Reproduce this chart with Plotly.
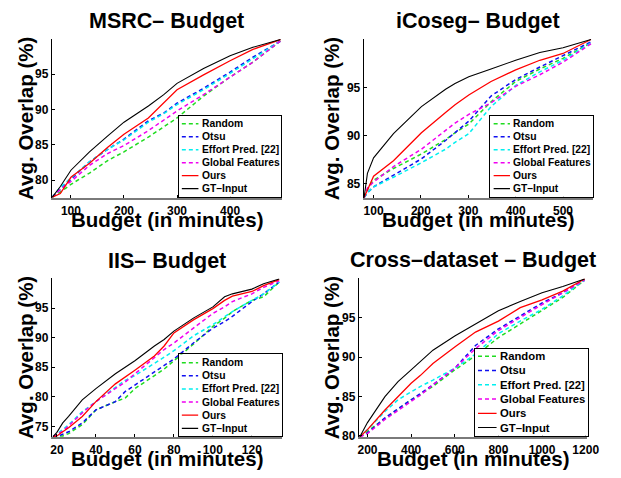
import plotly.graph_objects as go

# ---------------- data ----------------
series_names = ["Random", "Otsu", "Effort Pred. [22]", "Global Features", "Ours", "GT\u2013Input"]

# MSRC
msrc_x = [65, 80, 100, 135, 170, 200, 246, 275, 300, 350, 400, 443, 495]
msrc_random = [77.6, 78.3, 79.4, 81.0, 82.8, 84.0, 86.1, 87.5, 88.8, 91.9, 94.6, 96.7, 99.7]
msrc_otsu = [77.6, 78.7, 80.1, 82.6, 84.4, 85.8, 88.4, 89.5, 90.9, 93.0, 95.3, 97.4, 99.7]
msrc_effort = [77.6, 79.0, 80.3, 82.6, 84.4, 85.7, 88.2, 89.4, 90.7, 92.8, 95.1, 97.2, 99.7]
msrc_global = [77.6, 78.7, 79.8, 82.1, 83.8, 84.9, 87.0, 88.5, 89.8, 92.1, 94.6, 96.7, 99.7]
msrc_ours = [77.6, 78.1, 80.4, 82.4, 84.7, 86.5, 88.8, 90.9, 92.8, 94.9, 96.9, 98.5, 99.9]
msrc_gt = [77.6, 79.1, 81.4, 84.0, 86.3, 88.2, 90.5, 92.1, 93.7, 95.8, 97.6, 98.8, 99.9]

# iCoseg
icoseg_x = [80, 87, 100, 142, 201, 252, 272, 301, 348, 400, 451, 500, 559]
icoseg_random = [83.6, 84.4, 85.4, 86.6, 88.1, 89.6, 90.3, 91.2, 93.5, 95.6, 96.9, 98.0, 99.6]
icoseg_otsu = [83.6, 84.1, 84.7, 85.9, 87.6, 89.5, 90.3, 91.5, 94.1, 95.8, 97.1, 98.3, 99.7]
icoseg_effort = [83.6, 84.1, 84.7, 85.7, 87.2, 88.6, 89.3, 90.2, 93.0, 95.2, 96.6, 97.8, 99.6]
icoseg_global = [83.6, 84.6, 85.2, 86.8, 88.6, 90.5, 91.3, 92.2, 93.4, 95.1, 96.3, 97.6, 99.5]
icoseg_ours = [83.6, 84.4, 85.8, 87.4, 90.3, 92.4, 93.2, 94.2, 95.6, 96.8, 97.8, 98.5, 99.95]
icoseg_gt = [83.6, 86.1, 87.7, 90.2, 93.0, 94.8, 95.4, 96.1, 96.9, 97.8, 98.6, 99.1, 99.95]

# IIS
iis_x = [18, 20, 23, 26, 33, 40, 50, 55, 60, 70, 75, 80, 90, 100, 106, 110, 120, 126, 134]
iis_random = [73.3, 73.4, 73.4, 73.8, 75.3, 77.8, 79.2, 79.8, 81.4, 83.6, 84.7, 86.1, 88.9, 91.9, 93.3, 94.4, 96.3, 96.9, 99.4]
iis_otsu = [73.3, 73.3, 73.7, 74.1, 75.6, 77.8, 79.2, 80.9, 82.0, 84.2, 85.3, 86.4, 89.1, 91.6, 92.7, 93.6, 96.1, 97.4, 99.4]
iis_effort = [73.3, 73.7, 74.5, 75.3, 77.5, 79.2, 81.7, 82.8, 83.6, 85.6, 86.7, 87.8, 90.3, 92.2, 93.6, 94.4, 96.3, 97.4, 99.4]
iis_global = [73.3, 73.7, 74.2, 75.1, 77.3, 79.2, 81.4, 82.5, 83.9, 86.7, 88.0, 89.1, 91.6, 94.1, 95.2, 96.1, 97.4, 98.5, 99.6]
iis_ours = [73.3, 73.4, 74.1, 74.8, 76.7, 79.2, 82.2, 83.3, 84.5, 86.9, 88.6, 90.8, 93.0, 94.9, 96.3, 97.0, 97.8, 98.8, 99.8]
iis_gt = [73.3, 74.0, 75.6, 76.7, 79.5, 81.4, 83.9, 85.0, 86.1, 88.6, 89.7, 91.1, 93.3, 95.2, 96.9, 97.4, 98.2, 99.1, 99.9]

# Cross-dataset
cross_x = [165, 200, 280, 340, 400, 443, 500, 600, 695, 800, 900, 1000, 1095, 1195]
cross_random = [79.9, 80.6, 82.3, 83.5, 84.6, 85.3, 86.3, 88.4, 90.2, 92.5, 94.2, 95.9, 97.6, 99.8]
cross_otsu = [79.9, 80.4, 82.3, 83.5, 84.6, 85.4, 86.5, 88.6, 91.5, 93.6, 95.3, 96.9, 98.2, 99.8]
cross_effort = [79.9, 80.8, 83.1, 84.6, 85.6, 86.3, 87.1, 88.6, 90.4, 93.0, 94.6, 96.1, 97.8, 99.8]
cross_global = [79.9, 80.3, 82.1, 83.3, 84.4, 85.2, 86.5, 88.6, 91.1, 93.4, 95.1, 96.7, 98.2, 99.8]
cross_ours = [79.9, 80.8, 83.3, 85.0, 86.7, 87.7, 89.2, 91.3, 93.2, 94.6, 96.3, 97.3, 98.4, 99.95]
cross_gt = [79.9, 81.7, 85.0, 86.9, 88.4, 89.5, 90.9, 92.7, 94.2, 95.9, 97.1, 98.2, 99.0, 99.95]

panel_titles = ["MSRC\u2013 Budget", "iCoseg\u2013 Budget", "IIS\u2013 Budget", "Cross\u2013dataset \u2013 Budget"]
x_title = "Budget (in minutes)"
y_title = "Avg. Overlap (%)"

msrc_xticks = [100, 200, 300, 400]
msrc_yticks = [80, 85, 90, 95]
icoseg_xticks = [100, 200, 300, 400, 500]
icoseg_yticks = [85, 90, 95]
iis_xticks = [20, 40, 60, 80, 100, 120]
iis_yticks = [75, 80, 85, 90, 95]
cross_xticks = [200, 400, 600, 800, 1000, 1200]
cross_yticks = [80, 85, 90, 95]

panels = [
    dict(x=msrc_x, ys=[msrc_random, msrc_otsu, msrc_effort, msrc_global, msrc_ours, msrc_gt],
         xt=msrc_xticks, yt=msrc_yticks, xr=[64, 497], yr=[77.4, 100.05]),
    dict(x=icoseg_x, ys=[icoseg_random, icoseg_otsu, icoseg_effort, icoseg_global, icoseg_ours, icoseg_gt],
         xt=icoseg_xticks, yt=icoseg_yticks, xr=[79, 564], yr=[83.5, 100.05]),
    dict(x=iis_x, ys=[iis_random, iis_otsu, iis_effort, iis_global, iis_ours, iis_gt],
         xt=iis_xticks, yt=iis_yticks, xr=[17.4, 135.2], yr=[73.2, 100.05]),
    dict(x=cross_x, ys=[cross_random, cross_otsu, cross_effort, cross_global, cross_ours, cross_gt],
         xt=cross_xticks, yt=cross_yticks, xr=[160, 1205], yr=[79.85, 100.05]),
]

# ---------------- style ----------------
W, H = 621, 478
colors = ["#1fdc1f", "#1010f0", "#00f0f0", "#f000f0", "#ff0000", "#000000"]
dashes = ["4px,3px", "4px,3px", "4px,3px", "4px,3px", "solid", "solid"]
widths = [1.5, 1.5, 1.5, 1.5, 1.3, 1.1]
FONT = "Liberation Sans"

# axes boxes in pixels: (left, right, top, bottom)
axes_px = [(52, 287, 39, 201), (371, 606, 39, 201), (52, 287, 281.7, 442.7), (366, 599.3, 281.7, 442.7)]
# legend boxes in pixels: (left, right, top, bottom, first row y, row step, sample x0, sample x1, text x, font size)
legend_px = [
    (181.7, 286.7, 117.7, 199.3, 125.3, 13.15, 185, 202, 203.5, 10.3),
    (500.7, 605.3, 117.0, 199.3, 125.3, 13.15, 504, 520.7, 522.0, 10.3),
    (181.7, 287.3, 359.0, 441.3, 367.3, 13.3, 185, 201.7, 203.3, 10.3),
    (484.7, 600.3, 353.0, 441.3, 360.7, 14.46, 488, 507, 508.7, 11.3),
]
title_px = [(169.7, 21.5), (487.5, 21.5), (170, 264), (482.5, 263.5)]
xtitle_y = [222.5, 222.5, 464, 464]
ytitle_x = [25, 338.3, 25, 338.3]


def px2x(v):
    return v / W


def px2y(v):
    return 1 - v / H


fig = go.Figure()
annotations = []
layout = dict(width=W, height=H, margin=dict(l=0, r=0, t=0, b=0), showlegend=False,
              paper_bgcolor="white", plot_bgcolor="white")

for i, p in enumerate(panels):
    n = i + 1
    sx = "" if n == 1 else str(n)
    L, R, T, B = axes_px[i]
    for k, name in enumerate(series_names):
        fig.add_trace(go.Scatter(x=p["x"], y=p["ys"][k], mode="lines", name=name,
                                 line=dict(color=colors[k], dash=dashes[k], width=widths[k]),
                                 xaxis="x" + sx, yaxis="y" + sx, hoverinfo="skip"))
    tickfont = dict(family=FONT, size=12, color="black", weight="bold")
    layout["xaxis" + sx] = dict(domain=[px2x(L), px2x(R)], range=p["xr"], anchor="y" + sx,
                                tickvals=p["xt"], ticks="inside", ticklen=3, tickcolor="black",
                                showline=True, linecolor="#7a7a7a", linewidth=2, mirror=False,
                                showgrid=False, zeroline=False, tickfont=tickfont, fixedrange=True)
    layout["yaxis" + sx] = dict(domain=[px2y(B), px2y(T)], range=p["yr"], anchor="x" + sx,
                                tickvals=p["yt"], ticks="inside", ticklen=3, tickcolor="black",
                                showline=True, linecolor="black", linewidth=1, mirror=False,
                                showgrid=False, zeroline=False, tickfont=tickfont, fixedrange=True)
    tfont = dict(family=FONT, size=21.5, color="black", weight="bold")
    afont = dict(family=FONT, size=20.5, color="black", weight="bold")
    annotations.append(dict(text=panel_titles[i], x=px2x(title_px[i][0]), y=px2y(title_px[i][1]),
                            xref="paper", yref="paper", showarrow=False, xanchor="center",
                            yanchor="middle", font=tfont))
    annotations.append(dict(text=x_title, x=px2x((L + R) / 2), y=px2y(xtitle_y[i]),
                            xref="paper", yref="paper", showarrow=False, xanchor="center",
                            yanchor="middle", font=afont))
    annotations.append(dict(text=y_title, x=px2x(ytitle_x[i]), y=px2y((T + B) / 2),
                            xref="paper", yref="paper", showarrow=False, xanchor="center",
                            yanchor="middle", textangle=-90, font=afont))

# legend insets (one small axis per panel)
for i in range(4):
    n = i + 5
    sx = str(n)
    L, R, T, B, r0, step, s0, s1, tx, fs = legend_px[i]
    top_units = (r0 - T) / step
    bot_units = (B - r0) / step
    layout["xaxis" + sx] = dict(domain=[px2x(L), px2x(R)], range=[L, R], anchor="y" + sx,
                                showticklabels=False, ticks="", showgrid=False, zeroline=False,
                                showline=True, mirror=True, linecolor="black", linewidth=1,
                                fixedrange=True)
    layout["yaxis" + sx] = dict(domain=[px2y(B), px2y(T)], range=[bot_units, -top_units],
                                anchor="x" + sx, showticklabels=False, ticks="", showgrid=False,
                                zeroline=False, showline=True, mirror=True, linecolor="black",
                                linewidth=1, fixedrange=True)
    for k, name in enumerate(series_names):
        fig.add_trace(go.Scatter(x=[s0, s1], y=[k, k], mode="lines",
                                 line=dict(color=colors[k], dash=dashes[k], width=widths[k]),
                                 xaxis="x" + sx, yaxis="y" + sx, hoverinfo="skip"))
        annotations.append(dict(text=name, x=tx, y=k, xref="x" + sx, yref="y" + sx,
                                showarrow=False, xanchor="left", yanchor="middle",
                                font=dict(family=FONT, size=fs, color="black", weight="bold")))

layout["annotations"] = annotations
fig.update_layout(**layout)
fig.write_html("out.html", config={"displayModeBar": False},
               post_script="document.body.style.margin='0';document.body.style.overflow='hidden';")
